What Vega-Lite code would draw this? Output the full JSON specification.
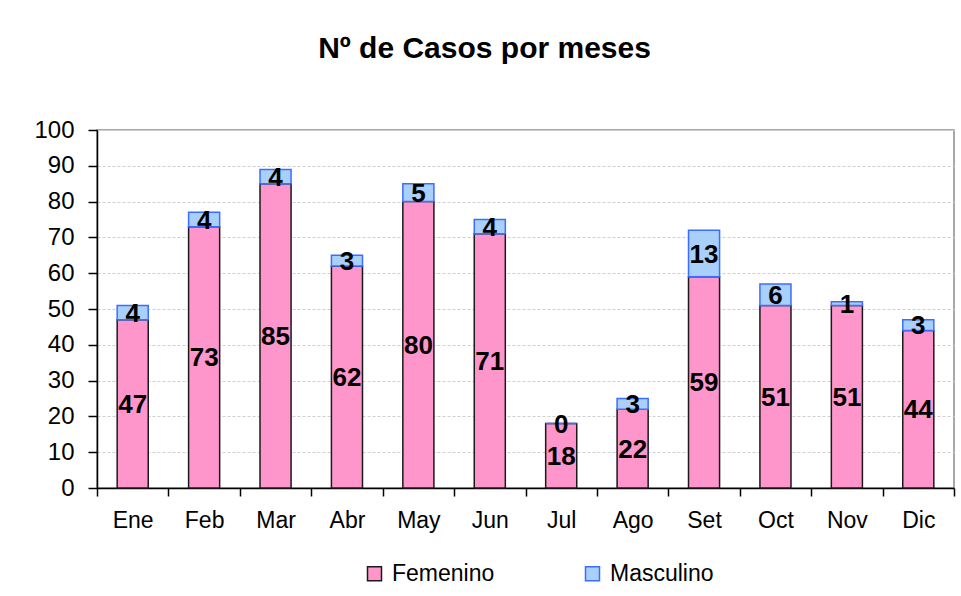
{
  "$schema": "https://vega.github.io/schema/vega-lite/v6.json",
  "width": 857,
  "height": 358,
  "autosize": "none",
  "padding": {"left": 97, "top": 130, "right": 7, "bottom": 108},
  "background": "#ffffff",
  "config": {
    "font": "Liberation Sans",
    "view": {"stroke": "#8c8c8c", "strokeWidth": 1.5}
  },
  "title": {
    "text": "Nº de Casos por meses",
    "fontSize": 30,
    "fontWeight": "bold",
    "color": "#000000",
    "anchor": "middle",
    "offset": 54,
    "dx": -41
  },
  "data": {
    "values": [
      {"mes": "Ene", "sexo": "Femenino", "n": 47},
      {"mes": "Ene", "sexo": "Masculino", "n": 4},
      {"mes": "Feb", "sexo": "Femenino", "n": 73},
      {"mes": "Feb", "sexo": "Masculino", "n": 4},
      {"mes": "Mar", "sexo": "Femenino", "n": 85},
      {"mes": "Mar", "sexo": "Masculino", "n": 4},
      {"mes": "Abr", "sexo": "Femenino", "n": 62},
      {"mes": "Abr", "sexo": "Masculino", "n": 3},
      {"mes": "May", "sexo": "Femenino", "n": 80},
      {"mes": "May", "sexo": "Masculino", "n": 5},
      {"mes": "Jun", "sexo": "Femenino", "n": 71},
      {"mes": "Jun", "sexo": "Masculino", "n": 4},
      {"mes": "Jul", "sexo": "Femenino", "n": 18},
      {"mes": "Jul", "sexo": "Masculino", "n": 0},
      {"mes": "Ago", "sexo": "Femenino", "n": 22},
      {"mes": "Ago", "sexo": "Masculino", "n": 3},
      {"mes": "Set", "sexo": "Femenino", "n": 59},
      {"mes": "Set", "sexo": "Masculino", "n": 13},
      {"mes": "Oct", "sexo": "Femenino", "n": 51},
      {"mes": "Oct", "sexo": "Masculino", "n": 6},
      {"mes": "Nov", "sexo": "Femenino", "n": 51},
      {"mes": "Nov", "sexo": "Masculino", "n": 1},
      {"mes": "Dic", "sexo": "Femenino", "n": 44},
      {"mes": "Dic", "sexo": "Masculino", "n": 3}
    ]
  },
  "encoding": {
    "x": {
      "field": "mes",
      "type": "ordinal",
      "sort": null,
      "scale": {"paddingInner": 0, "paddingOuter": 0},
      "axis": {
        "title": null,
        "labelAngle": 0,
        "labelFontSize": 23,
        "labelColor": "#000000",
        "labelPadding": 13,
        "tickBand": "extent",
        "tickSize": 8,
        "tickColor": "#000000",
        "tickWidth": 1.5,
        "domainColor": "#000000",
        "domainWidth": 1.5,
        "grid": false
      }
    },
    "y": {
      "field": "n",
      "type": "quantitative",
      "stack": "zero",
      "scale": {"domain": [0, 100], "nice": false},
      "axis": {
        "title": null,
        "values": [0, 10, 20, 30, 40, 50, 60, 70, 80, 90, 100],
        "labelFontSize": 24,
        "labelColor": "#000000",
        "labelPadding": 14,
        "tickSize": 9,
        "tickColor": "#000000",
        "tickWidth": 1.5,
        "domainColor": "#000000",
        "domainWidth": 1.5,
        "grid": true,
        "gridColor": "#cfcfcf",
        "gridDash": {"condition": {"test": "datum.value === 100", "value": []}, "value": [3, 2]}
      }
    },
    "order": {"field": "sexo", "sort": "ascending"}
  },
  "layer": [
    {
      "mark": {"type": "bar", "width": {"band": 0.435}, "strokeWidth": 1.5},
      "encoding": {
        "color": {
          "field": "sexo",
          "type": "nominal",
          "scale": {"domain": ["Femenino", "Masculino"], "range": ["#ff96cb", "#a8d0fa"]},
          "legend": {
            "title": null,
            "orient": "none",
            "direction": "horizontal",
            "legendX": 266,
            "legendY": 432,
            "symbolType": "square",
            "symbolSize": 196,
            "symbolStrokeWidth": 1.5,
            "labelFontSize": 23,
            "labelColor": "#000000",
            "labelOffset": 6,
            "columnPadding": 86
          }
        },
        "stroke": {
          "field": "sexo",
          "type": "nominal",
          "scale": {"domain": ["Femenino", "Masculino"], "range": ["#1a1a1a", "#3d6dff"]}
        }
      }
    },
    {
      "mark": {"type": "text", "fontSize": 26, "fontWeight": "bold", "color": "#000000", "baseline": "middle", "dy": 1},
      "encoding": {
        "y": {"field": "n", "type": "quantitative", "stack": "zero", "bandPosition": 0.5},
        "detail": {"field": "sexo"},
        "text": {"field": "n", "type": "quantitative"}
      }
    }
  ]
}
